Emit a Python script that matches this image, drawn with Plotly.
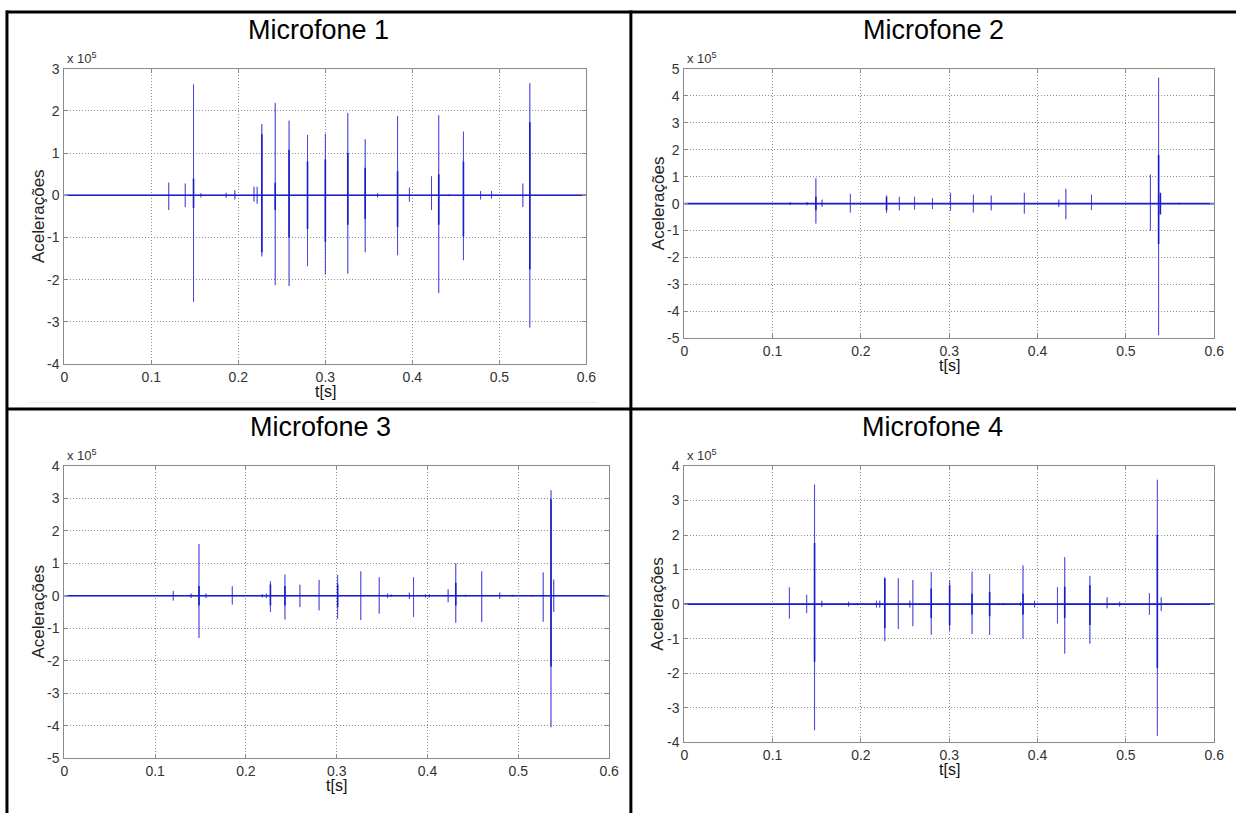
import plotly.graph_objects as go

# ---------------- data (accelerations in units of 1e5) ----------------
T_END = 0.6
x_ticks = [0, 0.1, 0.2, 0.3, 0.4, 0.5, 0.6]
x_tick_labels = ["0", "0.1", "0.2", "0.3", "0.4", "0.5", "0.6"]

# Microfone 1
m1_t = [0.120, 0.139, 0.1485, 0.157, 0.186, 0.196, 0.218, 0.2216, 0.227, 0.2424, 0.2583, 0.2795,
        0.300, 0.3258, 0.3458, 0.360, 0.383, 0.3966, 0.422, 0.4303, 0.442, 0.4587, 0.4784, 0.491,
        0.527, 0.535]
m1_pos = [0.30, 0.28, 2.63, 0.05, 0.06, 0.12, 0.20, 0.20, 1.69, 2.19, 1.77, 1.43,
          1.46, 1.95, 1.33, 0.05, 1.88, 0.18, 0.45, 1.90, 0.02, 1.51, 0.10, 0.10,
          0.28, 2.66]
m1_neg = [-0.35, -0.28, -2.53, -0.05, -0.06, -0.10, -0.15, -0.20, -1.45, -2.13, -2.15, -1.68,
          -1.88, -1.86, -1.35, -0.05, -1.42, -0.15, -0.35, -2.32, -0.02, -1.54, -0.10, -0.08,
          -0.28, -3.14]
m1_core_t = [0.1485, 0.227, 0.2424, 0.2583, 0.2795, 0.300, 0.3258, 0.3458, 0.383, 0.4303, 0.4587, 0.535]
m1_core_pos = [0.40, 1.45, 0.30, 1.08, 0.80, 0.85, 1.00, 0.65, 0.57, 0.50, 0.80, 1.73]
m1_core_neg = [-0.30, -1.35, -0.35, -1.00, -0.80, -1.10, -0.70, -0.56, -0.75, -0.70, -0.98, -1.76]
m1_yticks = [-4, -3, -2, -1, 0, 1, 2, 3]
m1_ytick_labels = ["-4", "-3", "-2", "-1", "0", "1", "2", "3"]

# Microfone 2
m2_t = [0.120, 0.139, 0.149, 0.156, 0.188, 0.229, 0.2435, 0.2607, 0.281, 0.3015, 0.3273, 0.3475,
        0.385, 0.424, 0.432, 0.461, 0.500, 0.5277, 0.537, 0.560]
m2_pos = [0.05, 0.06, 0.94, 0.15, 0.36, 0.30, 0.25, 0.25, 0.20, 0.40, 0.33, 0.30,
          0.40, 0.15, 0.55, 0.33, 0.02, 1.08, 4.67, 0.03]
m2_neg = [-0.05, -0.06, -0.74, -0.12, -0.33, -0.34, -0.25, -0.22, -0.20, -0.26, -0.33, -0.25,
          -0.37, -0.12, -0.58, -0.24, -0.02, -1.01, -4.88, -0.03]
m2_core_t = [0.149, 0.229, 0.537, 0.539]
m2_core_pos = [0.25, 0.25, 1.80, 0.40]
m2_core_neg = [-0.25, -0.25, -1.50, -0.40]
m2_yticks = [-5, -4, -3, -2, -1, 0, 1, 2, 3, 4, 5]
m2_ytick_labels = ["-5", "-4", "-3", "-2", "-1", "0", "1", "2", "3", "4", "5"]

# Microfone 3
m3_t = [0.120, 0.1396, 0.1483, 0.156, 0.185, 0.197, 0.218, 0.2225, 0.227, 0.243, 0.2595, 0.2806,
        0.301, 0.3265, 0.3468, 0.356, 0.360, 0.380, 0.3846, 0.3977, 0.402, 0.4227, 0.4311, 0.442,
        0.4597, 0.4795, 0.4933, 0.515, 0.5274, 0.536, 0.539]
m3_pos = [0.15, 0.07, 1.59, 0.07, 0.29, 0.02, 0.05, 0.07, 0.45, 0.65, 0.34, 0.49,
          0.64, 0.75, 0.57, 0.07, 0.04, 0.10, 0.57, 0.05, 0.05, 0.20, 1.00, 0.03,
          0.75, 0.10, 0.03, 0.02, 0.72, 3.25, 0.50]
m3_neg = [-0.15, -0.07, -1.30, -0.07, -0.27, -0.02, -0.05, -0.07, -0.50, -0.73, -0.35, -0.45,
          -0.71, -0.75, -0.55, -0.07, -0.04, -0.10, -0.65, -0.05, -0.05, -0.20, -0.83, -0.03,
          -0.81, -0.10, -0.03, -0.02, -0.80, -4.05, -0.50]
m3_core_t = [0.1483, 0.227, 0.243, 0.301, 0.4311, 0.536]
m3_core_pos = [0.30, 0.35, 0.30, 0.35, 0.40, 2.97]
m3_core_neg = [-0.30, -0.30, -0.30, -0.35, -0.30, -2.18]
m3_yticks = [-5, -4, -3, -2, -1, 0, 1, 2, 3, 4]
m3_ytick_labels = ["-5", "-4", "-3", "-2", "-1", "0", "1", "2", "3", "4"]

# Microfone 4
m4_t = [0.119, 0.1386, 0.1475, 0.1558, 0.186, 0.196, 0.2176, 0.2213, 0.227, 0.2423, 0.2554, 0.2588,
        0.2796, 0.3004, 0.3258, 0.3457, 0.356, 0.361, 0.3806, 0.3835, 0.3966, 0.4225, 0.4307, 0.442,
        0.4592, 0.4787, 0.4929, 0.5266, 0.5356, 0.540, 0.560, 0.580]
m4_pos = [0.49, 0.27, 3.46, 0.10, 0.07, 0.03, 0.10, 0.10, 0.77, 0.75, 0.10, 0.70,
          0.93, 0.68, 0.94, 0.87, 0.03, 0.03, 0.05, 1.12, 0.10, 0.49, 1.36, 0.02,
          0.82, 0.20, 0.07, 0.32, 3.60, 0.20, 0.02, 0.02]
m4_neg = [-0.42, -0.26, -3.65, -0.08, -0.07, -0.03, -0.10, -0.10, -1.07, -0.72, -0.10, -0.64,
          -0.89, -0.77, -0.86, -0.89, -0.03, -0.03, -0.05, -1.00, -0.10, -0.56, -1.43, -0.02,
          -1.14, -0.12, -0.07, -0.31, -3.81, -0.20, -0.02, -0.02]
m4_core_t = [0.1475, 0.227, 0.2796, 0.3004, 0.3258, 0.3457, 0.3835, 0.4307, 0.4592, 0.5356]
m4_core_pos = [1.77, 0.75, 0.45, 0.55, 0.30, 0.35, 0.30, 0.50, 0.55, 2.00]
m4_core_neg = [-1.67, -0.70, -0.40, -0.60, -0.30, -0.35, -0.30, -0.40, -0.60, -1.85]
m4_yticks = [-4, -3, -2, -1, 0, 1, 2, 3, 4]
m4_ytick_labels = ["-4", "-3", "-2", "-1", "0", "1", "2", "3", "4"]

titles = ["Microfone 1", "Microfone 2", "Microfone 3", "Microfone 4"]
y_label = "Acelerações"
x_label = "t[s]"
exp_label = "x 10<sup>5</sup>"

# ---------------- layout geometry (pixels) ----------------
W, H = 1246, 821
FONT = "Arial, Liberation Sans, Helvetica, sans-serif"


def fx(p):
    return p / W


def fy(p):
    return 1 - p / H


panels = [
    dict(data=(m1_t, m1_pos, m1_neg, m1_core_t, m1_core_pos, m1_core_neg),
         yt=(m1_yticks, m1_ytick_labels), box=(61, 589, 62, 363), title_xy=(318, 22), ylab_x=35),
    dict(data=(m2_t, m2_pos, m2_neg, m2_core_t, m2_core_pos, m2_core_neg),
         yt=(m2_yticks, m2_ytick_labels), box=(688, 1224, 62, 337), title_xy=(940, 22), ylab_x=662),
    dict(data=(m3_t, m3_pos, m3_neg, m3_core_t, m3_core_pos, m3_core_neg),
         yt=(m3_yticks, m3_ytick_labels), box=(61, 612, 467, 765), title_xy=(320, 427), ylab_x=35),
    dict(data=(m4_t, m4_pos, m4_neg, m4_core_t, m4_core_pos, m4_core_neg),
         yt=(m4_yticks, m4_ytick_labels), box=(688, 1224, 467, 749), title_xy=(939, 427), ylab_x=661),
]


def outer_path(ts, pos, neg):
    xs, ys = [0.0], [0.0]
    for t, p, n in zip(ts, pos, neg):
        xs += [t, t, t, t]
        ys += [0, p, n, 0]
    xs.append(T_END)
    ys.append(0.0)
    return xs, ys


def core_path(ts, pos, neg):
    xs, ys = [0.0, T_END, None], [0.0, 0.0, None]
    for t, p, n in zip(ts, pos, neg):
        xs += [t, t, None]
        ys += [p, n, None]
    return xs, ys


fig = go.Figure()
annotations = []
for i, pn in enumerate(panels):
    k = "" if i == 0 else str(i + 1)
    ts, pos, neg, ct, cp, cn = pn["data"]
    ox, oy = outer_path(ts, pos, neg)
    cx, cy = core_path(ct, cp, cn)
    fig.add_trace(go.Scatter(x=ox, y=oy, mode="lines", xaxis="x" + k, yaxis="y" + k,
                             line=dict(color="rgba(25,25,215,0.55)", width=1), hoverinfo="skip"))
    fig.add_trace(go.Scatter(x=cx, y=cy, mode="lines", xaxis="x" + k, yaxis="y" + k,
                             line=dict(color="#1c1cc8", width=1.6), hoverinfo="skip"))
    x0, x1, y0, y1 = pn["box"]
    yvals, ylabs = pn["yt"]
    axis_common = dict(showline=True, linecolor="#8a8a8a", linewidth=1, mirror="ticks",
                       ticks="inside", ticklen=4, tickcolor="#8a8a8a",
                       showgrid=True, gridcolor="#8f8f8f", griddash="1px,2px", gridwidth=1,
                       zeroline=False, fixedrange=True,
                       tickfont=dict(family=FONT, size=14, color="#333333"))
    fig.update_layout(**{
        "xaxis" + k: dict(axis_common, domain=[fx(x0), fx(x1)], range=[0, T_END],
                          anchor="y" + k, tickvals=x_ticks, ticktext=x_tick_labels),
        "yaxis" + k: dict(axis_common, domain=[fy(y1), fy(y0)], range=[yvals[0], yvals[-1]],
                          anchor="x" + k, tickvals=yvals, ticktext=ylabs,
                          ticklabelstandoff=1),
    })
    tx, ty = pn["title_xy"]
    annotations.append(dict(text=titles[i], x=fx(tx), y=fy(ty), xref="paper", yref="paper",
                            xanchor="center", yanchor="middle", showarrow=False,
                            font=dict(family=FONT, size=27, color="#000000")))
    annotations.append(dict(text=y_label, x=fx(pn["ylab_x"]), y=fy((y0 + y1) / 2), xref="paper",
                            yref="paper", xanchor="center", yanchor="middle", textangle=-90,
                            showarrow=False, font=dict(family=FONT, size=17, color="#222222")))
    annotations.append(dict(text=x_label, x=fx((x0 + x1) / 2), y=fy(y1 + 28), xref="paper",
                            yref="paper", xanchor="center", yanchor="middle", showarrow=False,
                            font=dict(family=FONT, size=16, color="#111111")))
    annotations.append(dict(text=exp_label, x=fx(x0 + 1), y=fy(y0 - 1), xref="paper", yref="paper",
                            xanchor="left", yanchor="bottom", showarrow=False,
                            font=dict(family=FONT, size=13, color="#333333")))

line_black = dict(color="#000000", width=3)
shapes = [
    dict(type="line", xref="paper", yref="paper", x0=fx(2), x1=1, y0=fy(4), y1=fy(4), line=line_black),
    dict(type="line", xref="paper", yref="paper", x0=fx(3), x1=fx(3), y0=fy(2.5), y1=0, line=line_black),
    dict(type="line", xref="paper", yref="paper", x0=fx(634), x1=fx(634), y0=fy(2.5), y1=0, line=line_black),
    dict(type="line", xref="paper", yref="paper", x0=fx(2), x1=1, y0=fy(409), y1=fy(409), line=line_black),
    dict(type="line", xref="paper", yref="paper", x0=fx(25), x1=fx(600), y0=fy(402), y1=fy(402),
         line=dict(color="#ececec", width=1)),
]

fig.update_layout(width=W, height=H, margin=dict(l=0, r=0, t=0, b=0),
                  paper_bgcolor="white", plot_bgcolor="white", showlegend=False,
                  annotations=annotations, shapes=shapes,
                  font=dict(family=FONT))

fig.write_html("out.html")
